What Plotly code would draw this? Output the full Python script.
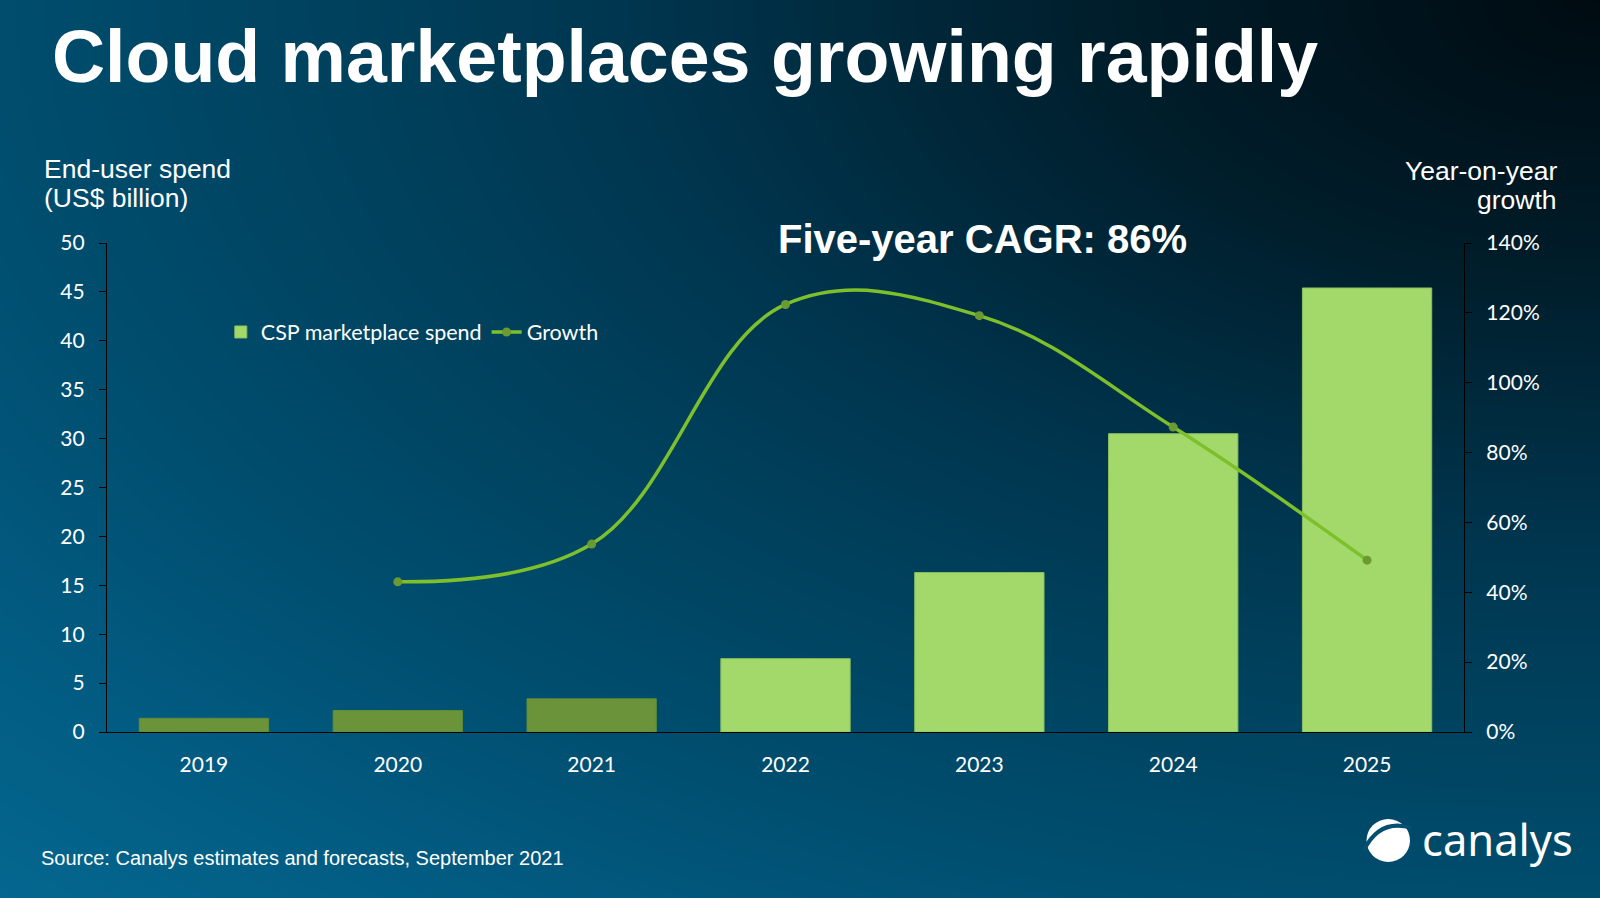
import numpy as np
import plotly.graph_objects as go

# ---------------- data ----------------
years = ["2019", "2020", "2021", "2022", "2023", "2024", "2025"]
spend = [1.4, 2.2, 3.4, 7.5, 16.3, 30.5, 45.4]          # US$ billion
growth = [None, 0.43, 0.538, 1.224, 1.192, 0.873, 0.492]  # year-on-year
n_hist = 3  # 2019-2021 drawn darker

y_left_ticks = [0, 5, 10, 15, 20, 25, 30, 35, 40, 45, 50]
y_right_ticks = [0, 0.2, 0.4, 0.6, 0.8, 1.0, 1.2, 1.4]

W, H = 1600, 898
LIGHT = "#a3d96b"
DARK = "#6b943a"
LINE = "#7dc02b"
MARK = "#6b9a33"

fig = go.Figure()

# ---------------- background gradient (radial from top-right) ----------------
gx = np.linspace(0, W, 41)
gy = np.linspace(0, H, 41)
GX, GY = np.meshgrid(gx, gy)
gz = np.sqrt((1 - GX / W) ** 2 + (GY / H) ** 2)
fig.add_trace(go.Heatmap(
    x=gx, y=gy, z=gz, zmin=0, zmax=np.sqrt(2), zsmooth="best",
    colorscale=[[0.0, "#000b11"], [0.212, "#001d2a"], [0.424, "#00354e"],
                [0.566, "#00425e"], [0.707, "#004d6e"], [0.849, "#025a80"],
                [1.0, "#04678f"]],
    showscale=False, hoverinfo="skip", xaxis="x", yaxis="y",
))

# ---------------- bars ----------------
fig.add_trace(go.Bar(
    x=years[n_hist:], y=spend[n_hist:], name="CSP marketplace spend",
    marker=dict(color=LIGHT, line=dict(color="#8cbf5e", width=1)),
    xaxis="x2", yaxis="y2", legendgroup="spend",
))
fig.add_trace(go.Bar(
    x=years[:n_hist], y=spend[:n_hist], name="CSP marketplace spend",
    marker=dict(color=DARK, line=dict(color="#5f8a3a", width=1)),
    xaxis="x2", yaxis="y2", legendgroup="spend", showlegend=False,
))

# ---------------- growth line ----------------
fig.add_trace(go.Scatter(
    x=years, y=growth, name="Growth", mode="lines+markers",
    line=dict(color=LINE, width=3.5, shape="spline", smoothing=1.1),
    marker=dict(color=MARK, size=9, line=dict(color=MARK, width=0)),
    xaxis="x2", yaxis="y3", connectgaps=False,
))

tickfont = dict(family="Lato, Carlito, sans-serif", size=21, color="#ffffff")
x0, x1 = 107 / W, 1464 / W
yb, yt = 1 - 732 / H, 1 - 243 / H

fig.update_layout(
    template="none",
    width=W, height=H, margin=dict(l=0, r=0, t=0, b=0, pad=0, autoexpand=False),
    paper_bgcolor="#003a55", plot_bgcolor="rgba(0,0,0,0)",
    barmode="overlay", bargap=0.333, showlegend=True,
    xaxis=dict(domain=[0, 1], range=[0, W], visible=False, fixedrange=True,
               automargin=False),
    yaxis=dict(domain=[0, 1], range=[H, 0], visible=False, fixedrange=True,
               automargin=False),
    xaxis2=dict(domain=[x0, x1], anchor="y2", type="category",
                categoryorder="array", categoryarray=years, range=[-0.5, 6.5],
                showline=True, linecolor="#000000", linewidth=1.3,
                ticks="", showgrid=False, zeroline=False, automargin=False,
                tickfont=tickfont, ticklabelstandoff=14),
    yaxis2=dict(domain=[yb, yt], anchor="x2", range=[0, 50],
                tickvals=y_left_ticks, ticks="outside", ticklen=7,
                tickcolor="#000000", tickwidth=1.3,
                showline=True, linecolor="#000000", linewidth=1.3,
                showgrid=False, zeroline=False, tickfont=tickfont,
                ticklabelstandoff=10, automargin=False),
    yaxis3=dict(domain=[yb, yt], anchor="x2", overlaying="y2", side="right",
                range=[0, 1.4], tickvals=y_right_ticks, tickformat=".0%",
                ticks="outside", ticklen=7, tickcolor="#000000", tickwidth=1.3,
                showline=True, linecolor="#000000", linewidth=1.3,
                showgrid=False, zeroline=False, tickfont=tickfont,
                ticklabelstandoff=10, automargin=False),
    legend=dict(orientation="h", x=0.138, xanchor="left", y=1 - 332 / H,
                yanchor="middle", bgcolor="rgba(0,0,0,0)",
                font=dict(family="Lato, Carlito, sans-serif", size=21.5,
                          color="#ffffff"),
                itemwidth=30, tracegroupgap=0),
)

arial = "Liberation Sans, Arial, sans-serif"
ann = []
def txt(t, x, y, size, xanchor="left", bold=False, family=arial):
    ann.append(dict(text=f"<b>{t}</b>" if bold else t, x=x / W, y=1 - y / H,
                    xref="paper", yref="paper", xanchor=xanchor,
                    yanchor="middle", showarrow=False,
                    font=dict(family=family, size=size, color="#ffffff")))

txt("Cloud marketplaces growing rapidly", 50, 57, 73.5, bold=True)
txt("End-user spend", 42, 169, 26.5)
txt("(US$ billion)", 42, 198, 26.5)
txt("Year-on-year", 1559, 171, 26.5, xanchor="right")
txt("growth", 1559, 200, 26.5, xanchor="right")
txt("Five-year CAGR: 86%", 982, 239, 40, xanchor="center", bold=True)
txt("Source: Canalys estimates and forecasts, September 2021", 39, 858, 20)
txt("canalys", 1420, 839, 43.5, family="Noto Sans, Open Sans, sans-serif")
fig.update_layout(annotations=ann)

# ---------------- logo glyph ----------------
fig.add_shape(type="circle", xref="paper", yref="paper",
              x0=1366.5 / W, x1=1410 / W, y0=1 - 862 / H, y1=1 - 819 / H,
              fillcolor="#ffffff", line=dict(width=0), layer="above")
fig.add_shape(type="path", xref="paper", yref="paper",
              path=(f"M {1364 / W},{1 - 850 / H} "
                    f"Q {1380 / W},{1 - 818 / H} {1412 / W},{1 - 828 / H}"),
              line=dict(color="#034f71", width=4), layer="above")

fig.write_html(
    "out.html",
    config={"displayModeBar": False},
    post_script=("document.body.style.margin='0';"
                 "document.body.style.overflow='hidden';"
                 "document.documentElement.style.overflow='hidden';"),
)
